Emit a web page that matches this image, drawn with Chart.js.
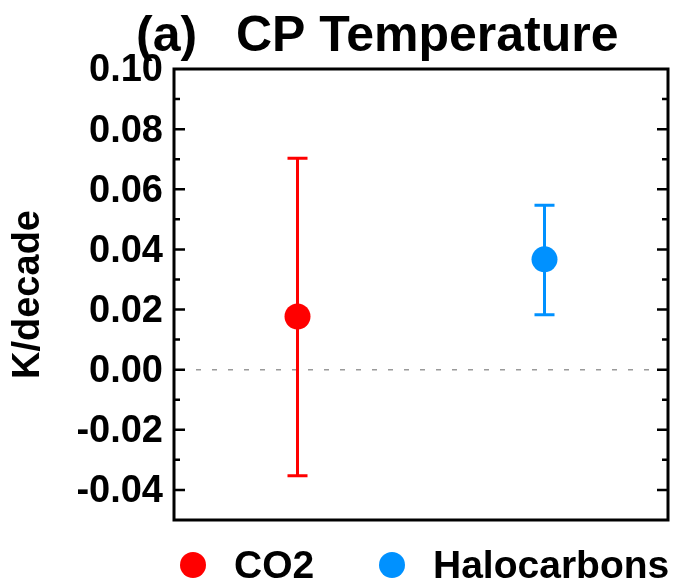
<!DOCTYPE html>
<html>
<head>
<meta charset="utf-8">
<script src="https://cdn.jsdelivr.net/npm/chart.js@4/dist/chart.umd.min.js"></script>
<style>
html,body{margin:0;padding:0;background:#fff;overflow:hidden;}
#wrap{width:675px;height:582px;position:relative;}
canvas{display:block;}
</style>
</head>
<body>
<div id="wrap"><canvas id="c" width="675" height="582"></canvas></div>
<script>
// ---- data ----
const categories = ['CO2', 'Halocarbons'];
const xPositions = [1, 3];
const centralValues = [0.0177, 0.0367];
const upperValues = [0.0703, 0.0547];
const lowerValues = [-0.0353, 0.0183];
const seriesColors = ['#ff0000', '#0091ff'];
const yTickLabels = ['-0.04', '-0.02', '0.00', '0.02', '0.04', '0.06', '0.08', '0.10'];
const panelTag = '(a)';
const chartTitle = 'CP Temperature';
const yAxisTitle = 'K/decade';

const FONT = '"Liberation Sans", Arial, sans-serif';

const datasets = categories.map((name, i) => ({
  label: name,
  data: [{x: xPositions[i], y: centralValues[i], yMin: lowerValues[i], yMax: upperValues[i]}],
  backgroundColor: seriesColors[i],
  borderColor: seriesColors[i],
  borderWidth: 0,
  pointRadius: 13,
  pointHoverRadius: 13
}));

const decor = {
  id: 'decor',
  beforeDatasetsDraw(chart) {
    const {ctx, chartArea: a, scales: {x, y}} = chart;
    ctx.save();
    ctx.strokeStyle = '#9a9a9a';
    ctx.lineWidth = 1.5;
    ctx.setLineDash([5, 11]);
    const y0 = y.getPixelForValue(0);
    ctx.beginPath(); ctx.moveTo(a.left + 6, y0); ctx.lineTo(a.right - 4, y0); ctx.stroke();
    ctx.setLineDash([]);
    chart.data.datasets.forEach(ds => {
      ds.data.forEach(p => {
        const px = x.getPixelForValue(p.x);
        const yt = y.getPixelForValue(p.yMax);
        const yb = y.getPixelForValue(p.yMin);
        ctx.strokeStyle = ds.borderColor;
        ctx.lineWidth = 3;
        ctx.beginPath();
        ctx.moveTo(px, yt); ctx.lineTo(px, yb);
        ctx.moveTo(px - 10, yt); ctx.lineTo(px + 10, yt);
        ctx.moveTo(px - 10, yb); ctx.lineTo(px + 10, yb);
        ctx.stroke();
      });
    });
    ctx.restore();
  },
  afterDraw(chart) {
    const {ctx, chartArea: a, scales: {y}} = chart;
    ctx.save();
    ctx.strokeStyle = '#000';
    ctx.lineWidth = 3;
    ctx.strokeRect(a.left, a.top, a.right - a.left, a.bottom - a.top);
    ctx.lineWidth = 2.5;
    y.ticks.forEach(t => {
      const v = t.value;
      if (Math.abs(v - y.min) < 1e-9 || Math.abs(v - y.max) < 1e-9) return;
      const s = (Math.abs(v) < 1e-9 ? 0 : v).toFixed(2);
      const major = yTickLabels.includes(s);
      const py = y.getPixelForValue(v);
      const len = major ? 11 : 6;
      ctx.beginPath();
      ctx.moveTo(a.left, py); ctx.lineTo(a.left + len, py);
      ctx.moveTo(a.right, py); ctx.lineTo(a.right - len, py);
      ctx.stroke();
    });
    ctx.fillStyle = '#000';
    ctx.textBaseline = 'alphabetic';
    ctx.font = 'bold 50px ' + FONT;
    ctx.textAlign = 'left';
    ctx.fillText(panelTag, 136, 51);
    ctx.fillText(chartTitle, 236, 51);
    ctx.font = 'bold 39px ' + FONT;
    const legendDotX = [193, 392];
    chart.data.datasets.forEach((ds, i) => {
      ctx.fillStyle = ds.backgroundColor;
      ctx.beginPath(); ctx.arc(legendDotX[i], 565, 13, 0, Math.PI * 2); ctx.fill();
      ctx.fillStyle = '#000';
      ctx.fillText(ds.label, legendDotX[i] + 41, 578);
    });
    ctx.restore();
  }
};

new Chart(document.getElementById('c'), {
  type: 'scatter',
  data: {datasets},
  options: {
    responsive: false,
    animation: false,
    events: [],
    layout: {autoPadding: false, padding: {top: 69, bottom: 62, right: 7, left: 0}},
    plugins: {legend: {display: false}, tooltip: {enabled: false}, title: {display: false}},
    scales: {
      x: {type: 'linear', min: 0, max: 4, display: false},
      y: {
        type: 'linear', min: -0.05, max: 0.10,
        grid: {display: false, drawTicks: false},
        border: {display: false},
        afterFit(s) { s.width = 174; },
        ticks: {
          stepSize: 0.01,
          autoSkip: false,
          padding: 11,
          labelOffset: 2,
          color: '#000',
          font: {family: FONT, size: 38, weight: 'bold'},
          callback(v) {
            const s = (Math.abs(v) < 1e-9 ? 0 : v).toFixed(2);
            return yTickLabels.includes(s) ? s : '';
          }
        },
        title: {
          display: true, text: yAxisTitle, color: '#000',
          font: {family: FONT, size: 38, weight: 'bold'},
          padding: {top: 6, bottom: 0}
        }
      }
    }
  },
  plugins: [decor]
});
</script>
</body>
</html>
